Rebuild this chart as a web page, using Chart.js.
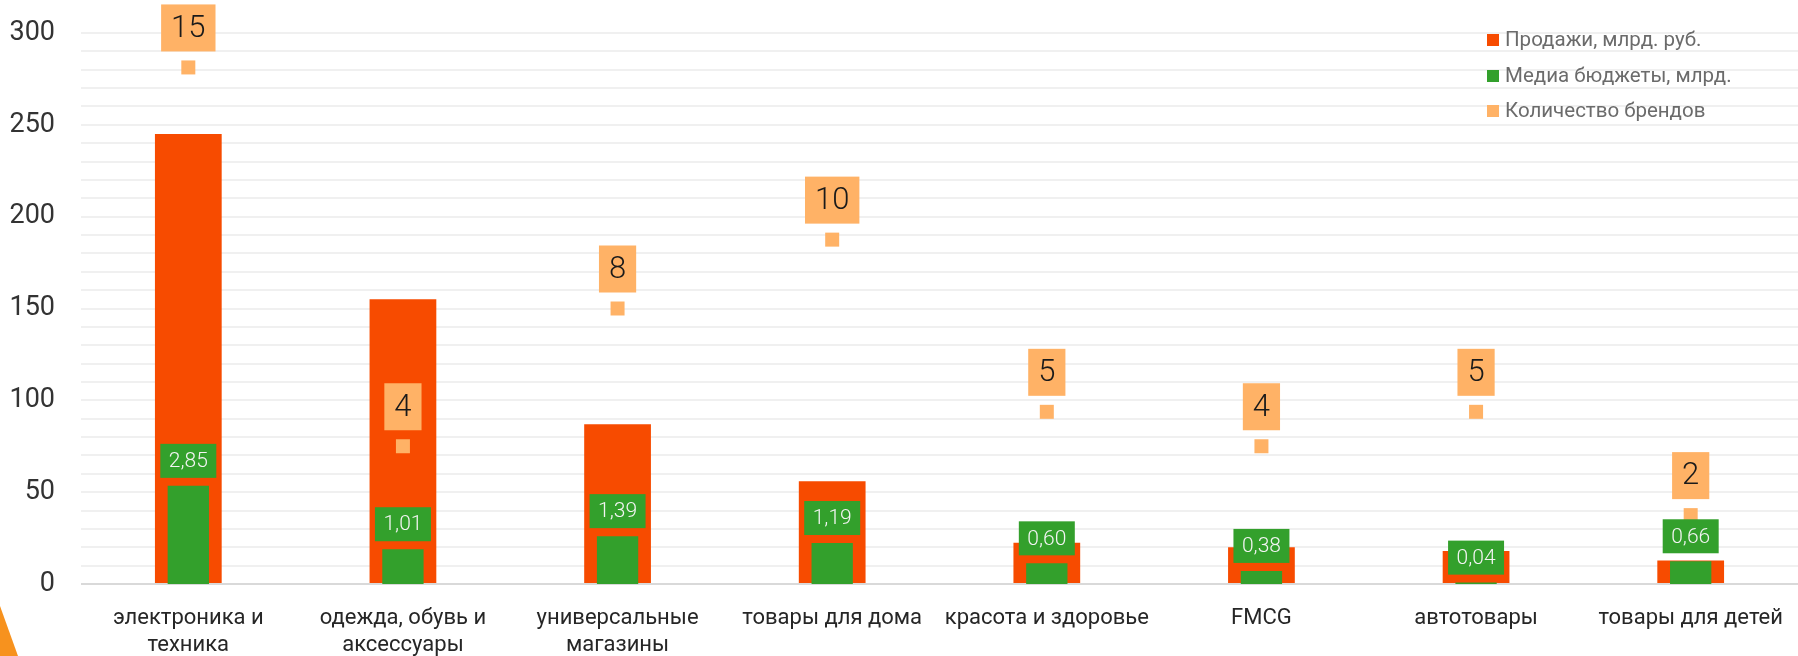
<!DOCTYPE html>
<html>
<head>
<meta charset="utf-8">
<script src="https://cdn.jsdelivr.net/npm/chart.js@4/dist/chart.umd.min.js"></script>
<style>
  html, body { margin: 0; padding: 0; background: #ffffff; }
  #wrap { position: relative; width: 1798px; height: 656px; overflow: hidden; }
  #deco { position: absolute; left: 0; bottom: 0; width: 18px; height: 50px; background: #F7921E;
          clip-path: polygon(0 0, 100% 100%, 0 100%); }
</style>
</head>
<body>
<div id="wrap">
  <canvas id="c" width="1798" height="656"></canvas>
  <div id="deco"></div>
</div>
<script>
const categories = [
  ['электроника и', 'техника'],
  ['одежда, обувь и', 'аксессуары'],
  ['универсальные', 'магазины'],
  'товары для дома',
  'красота и здоровье',
  'FMCG',
  'автотовары',
  'товары для детей'
];
const salesLabel = 'Продажи, млрд. руб.';
const sales = [245, 155, 87, 56, 22.5, 20, 18, 12.8];
const mediaLabel = 'Медиа бюджеты, млрд.';
const media = [2.85, 1.01, 1.39, 1.19, 0.60, 0.38, 0.04, 0.66];
const brandsLabel = 'Количество брендов';
const brands = [15, 4, 8, 10, 5, 4, 5, 2];
const yTicks = [0, 50, 100, 150, 200, 250, 300];

const C_SALES = '#F74B00';
const C_MEDIA = '#33A02C';
const C_BRANDS = '#FFB266';
const FONT = 'Roboto, "Liberation Sans", Arial, sans-serif';

const labelPlugin = {
  id: 'boxLabels',
  afterDatasetsDraw(chart) {
    const ctx = chart.ctx;
    ctx.save();
    const mMeta = chart.getDatasetMeta(1);
    ctx.font = '300 21px ' + FONT;
    ctx.textAlign = 'center';
    ctx.textBaseline = 'middle';
    mMeta.data.forEach((el, i) => {
      const txt = media[i].toFixed(2).replace('.', ',');
      const w = ctx.measureText(txt).width + 17;
      const h = 34;
      const bottom = el.y - 8;
      ctx.fillStyle = C_MEDIA;
      ctx.fillRect(el.x - w / 2, bottom - h, w, h);
      ctx.fillStyle = '#F4F4F4';
      ctx.fillText(txt, el.x, bottom - h / 2 + 1);
    });
    const bMeta = chart.getDatasetMeta(2);
    ctx.font = '300 31px ' + FONT;
    bMeta.data.forEach((el, i) => {
      const txt = String(brands[i]);
      const w = ctx.measureText(txt).width + 20;
      const h = 47;
      const bottom = el.y - 16;
      ctx.fillStyle = C_BRANDS;
      ctx.fillRect(el.x - w / 2, bottom - h, w, h);
      ctx.fillStyle = '#1A1A1A';
      ctx.fillText(txt, el.x, bottom - h / 2 + 1);
    });
    ctx.restore();
  },
  afterDraw(chart) {
    const ctx = chart.ctx;
    ctx.save();
    ctx.font = '20.5px ' + FONT;
    ctx.textAlign = 'left';
    ctx.textBaseline = 'middle';
    const x0 = 1487, ys = [40, 76, 111];
    chart.data.datasets.forEach((ds, i) => {
      ctx.fillStyle = ds.backgroundColor;
      ctx.fillRect(x0, ys[i] - 6, 12, 12);
      ctx.fillStyle = '#6B6B6B';
      ctx.fillText(ds.label, x0 + 18, ys[i] + 1);
    });
    ctx.restore();
  }
};

new Chart(document.getElementById('c'), {
  data: {
    labels: categories,
    datasets: [
      { type: 'bar', label: salesLabel, data: sales, backgroundColor: C_SALES, yAxisID: 'y',
        grouped: false, categoryPercentage: 1, barPercentage: 0.311, order: 3 },
      { type: 'bar', label: mediaLabel, data: media, backgroundColor: C_MEDIA, yAxisID: 'y2',
        grouped: false, categoryPercentage: 1, barPercentage: 0.1925, order: 2 },
      { type: 'line', label: brandsLabel, data: brands, backgroundColor: C_BRANDS, borderColor: C_BRANDS,
        yAxisID: 'y2', showLine: false, pointStyle: 'rect', pointRadius: 9.9, pointHoverRadius: 9.9,
        pointBorderWidth: 0, order: 1 }
    ]
  },
  options: {
    responsive: false,
    animation: false,
    layout: { autoPadding: false, padding: { top: 33, right: 0, left: 0, bottom: 0 } },
    plugins: { legend: { display: false }, tooltip: { enabled: false } },
    scales: {
      x: {
        grid: { display: false, drawTicks: false },
        border: { display: false },
        ticks: { color: '#262626', font: { family: FONT, size: 22, lineHeight: 1.22 }, padding: 21,
                 maxRotation: 0, autoSkip: false },
        afterFit(s) { s.height = 72; s.paddingLeft = 0; s.paddingRight = 0; }
      },
      y: {
        min: 0, max: 300,
        afterBuildTicks(s) {
          const t = [];
          for (let v = 0; v <= 300; v += 10) t.push({ value: v });
          s.ticks = t;
        },
        ticks: {
          autoSkip: false, padding: 26, color: '#333333',
          font: { family: FONT, size: 27 },
          callback: (v) => (yTicks.includes(v) ? String(v) : '')
        },
        grid: {
          drawTicks: false, lineWidth: 2,
          color: (c) => (c.tick && c.tick.value === 0 ? '#D9D9D9' : '#F0F0F0')
        },
        border: { display: false },
        afterFit(s) { s.width = 81; s.paddingTop = 0; s.paddingBottom = 0; }
      },
      y2: { min: 0, max: 16, display: false }
    }
  },
  plugins: [labelPlugin]
});
</script>
</body>
</html>
